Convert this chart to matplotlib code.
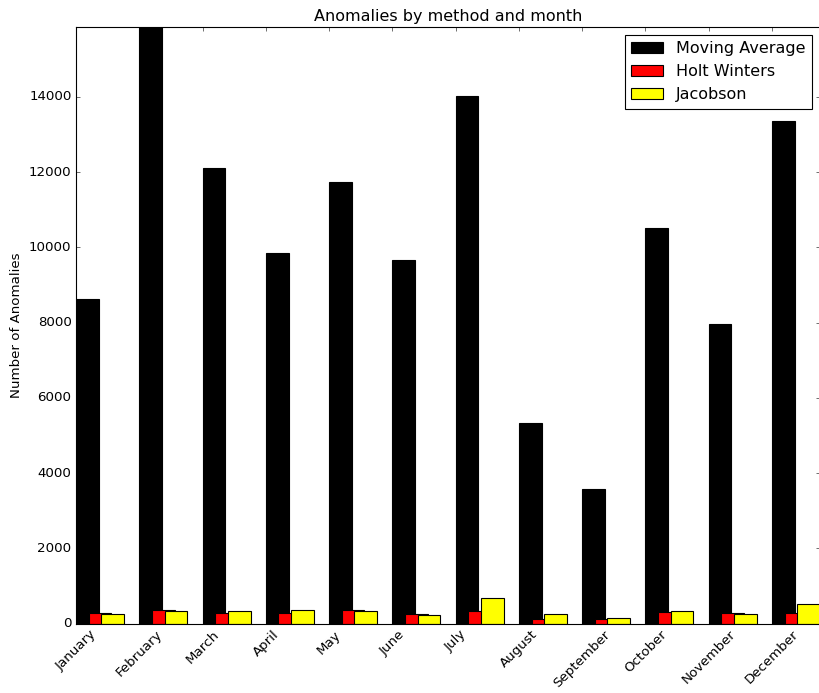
import numpy as np
import matplotlib
matplotlib.use("Agg")
import matplotlib.pyplot as plt

plt.style.use('classic')

months = ["January", "February", "March", "April", "May", "June", "July",
          "August", "September", "October", "November", "December"]
moving_average = [8620, 15860, 12110, 9850, 11740, 9660, 14030, 5320, 3570, 10510, 7960, 13360]
holt_winters = [270, 350, 280, 270, 350, 260, 330, 120, 120, 310, 270, 290]
jacobson = [250, 340, 320, 370, 320, 220, 690, 255, 140, 325, 240, 510]

width = 0.36
ind = np.arange(len(months))

fig = plt.figure(figsize=(819 / 80, 693 / 80), dpi=80)
ax = fig.add_axes([76 / 819, 69.5 / 693, 744 / 819, 596.5 / 693])

ax.bar(ind, moving_average, width, color='black', align='edge', label='Moving Average')
ax.bar(ind + 0.2, holt_winters, width, color='red', align='edge', label='Holt Winters')
ax.bar(ind + 0.4, jacobson, width, color='yellow', align='edge', label='Jacobson')

ax.set_xlim(0, len(months) - 1 + 0.4 + width)
ax.set_ylim(0, max(moving_average))
ax.set_xticks(ind)
ax.set_xticklabels(months, rotation=45)
ax.set_yticks(np.arange(0, 15000, 2000))
ax.set_ylabel('Number of Anomalies')
ax.set_title('Anomalies by method and month')
ax.legend(loc='upper right')

fig.savefig('out.png', dpi=80)
